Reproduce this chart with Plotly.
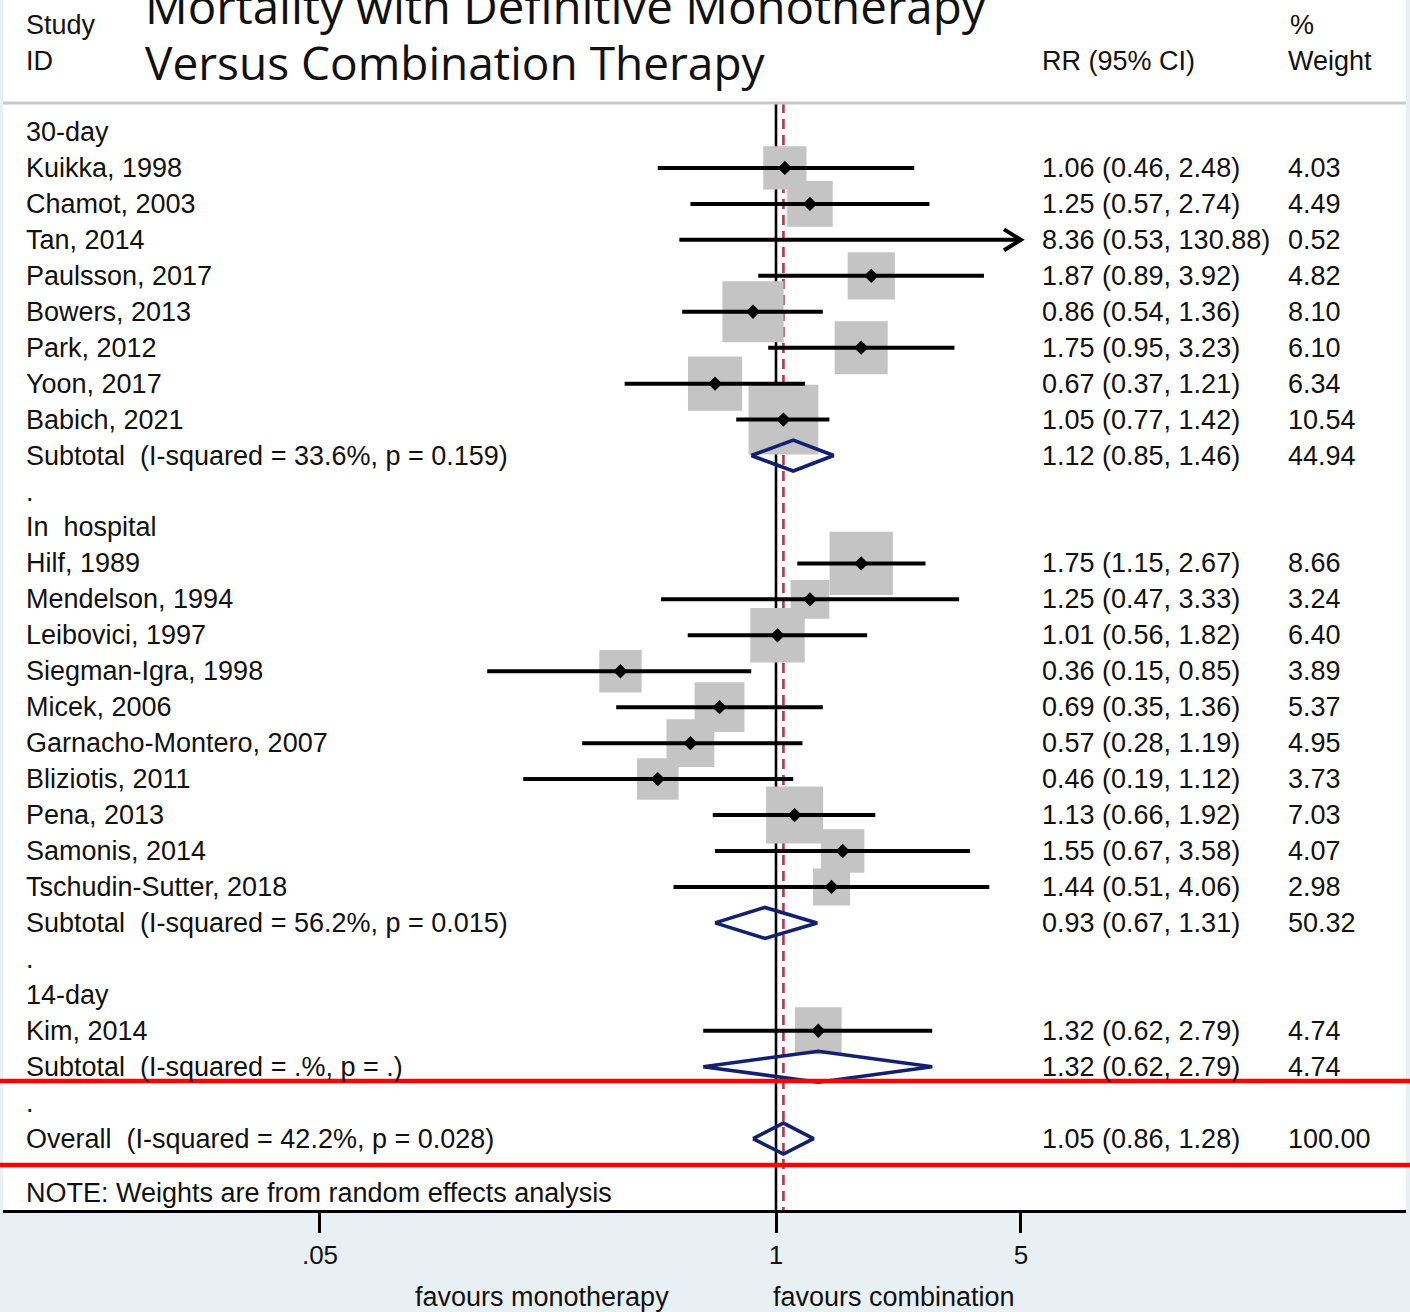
import math
import plotly.graph_objects as go

# ---------------- data ----------------
groups = ["30-day", "In\u00a0 hospital", "14-day"]
studies = ["Kuikka, 1998", "Chamot, 2003", "Tan, 2014", "Paulsson, 2017", "Bowers, 2013",
           "Park, 2012", "Yoon, 2017", "Babich, 2021",
           "Hilf, 1989", "Mendelson, 1994", "Leibovici, 1997", "Siegman-Igra, 1998", "Micek, 2006",
           "Garnacho-Montero, 2007", "Bliziotis, 2011", "Pena, 2013", "Samonis, 2014",
           "Tschudin-Sutter, 2018",
           "Kim, 2014"]
study_group = [0, 0, 0, 0, 0, 0, 0, 0,
               1, 1, 1, 1, 1, 1, 1, 1, 1, 1,
               2]
est = [1.06, 1.25, 8.36, 1.87, 0.86, 1.75, 0.67, 1.05,
       1.75, 1.25, 1.01, 0.36, 0.69, 0.57, 0.46, 1.13, 1.55, 1.44,
       1.32]
lo = [0.46, 0.57, 0.53, 0.89, 0.54, 0.95, 0.37, 0.77,
      1.15, 0.47, 0.56, 0.15, 0.35, 0.28, 0.19, 0.66, 0.67, 0.51,
      0.62]
hi = [2.48, 2.74, 130.88, 3.92, 1.36, 3.23, 1.21, 1.42,
      2.67, 3.33, 1.82, 0.85, 1.36, 1.19, 1.12, 1.92, 3.58, 4.06,
      2.79]
weight = [4.03, 4.49, 0.52, 4.82, 8.10, 6.10, 6.34, 10.54,
          8.66, 3.24, 6.40, 3.89, 5.37, 4.95, 3.73, 7.03, 4.07, 2.98,
          4.74]

sub_est = [1.12, 0.93, 1.32]
sub_lo = [0.85, 0.67, 0.62]
sub_hi = [1.46, 1.31, 2.79]
sub_w = [44.94, 50.32, 4.74]
sub_i2 = ["33.6%", "56.2%", ".%"]
sub_p = ["0.159", "0.015", "."]

overall_est, overall_lo, overall_hi, overall_w = 1.05, 0.86, 1.28, 100.00
overall_i2, overall_p = "42.2%", "0.028"

tick_vals = [0.05, 1, 5]
tick_text = [".05", "1", "5"]

title_lines = ["Mortality with Definitive Monotherapy", "Versus Combination Therapy"]
note_text = "NOTE: Weights are from random effects analysis"
left_label = "favours monotherapy"
right_label = "favours combination"

# ---------------- layout constants ----------------
W, H = 1410, 1312
ML, MR, MT, MB = 3, 4, 0, 102
ROW0_PX, ROW_PX = 132.0, 35.95
PX_PER_DEC = 350.5
ONE_PX = 776.0
XMAX = max(tick_vals)
PLOT_H = H - MT - MB

def px_to_row(py):
    return (py - ROW0_PX) / ROW_PX

def px_to_paper(px):
    return (px - ML) / (W - ML - MR)

def py_to_paper(py):
    return (H - MB - py) / PLOT_H

x_range = [(ML - ONE_PX) / PX_PER_DEC, (W - MR - ONE_PX) / PX_PER_DEC]
y_range = [px_to_row(H - MB), px_to_row(MT)]

FONT = "Liberation Sans, Arial, sans-serif"
FS = 27
NAVY = "#13206e"
BOX = "#c4c4c4"

# ---------------- build rows ----------------
rows = []
r = 0
study_rows = []
sub_rows = []
for g, gname in enumerate(groups):
    rows.append((r, gname, None, None))
    r += 1
    for i, s in enumerate(studies):
        if study_group[i] == g:
            rows.append((r, s, f"{est[i]:.2f} ({lo[i]:.2f}, {hi[i]:.2f})", f"{weight[i]:.2f}"))
            study_rows.append((i, r))
            r += 1
    rows.append((r, f"Subtotal\u00a0 (I-squared = {sub_i2[g]}, p = {sub_p[g]})",
                 f"{sub_est[g]:.2f} ({sub_lo[g]:.2f}, {sub_hi[g]:.2f})", f"{sub_w[g]:.2f}"))
    sub_rows.append((g, r))
    r += 1
    rows.append((r, ".", None, None))
    r += 1
overall_row = r
rows.append((r, f"Overall\u00a0 (I-squared = {overall_i2}, p = {overall_p})",
             f"{overall_est:.2f} ({overall_lo:.2f}, {overall_hi:.2f})", f"{overall_w:.2f}"))
note_row = r + 1.5

fig = go.Figure()

top_line_row = px_to_row(103)
bottom_row = y_range[0]

# reference lines (below markers)
fig.add_trace(go.Scatter(x=[1, 1], y=[top_line_row, bottom_row], mode="lines",
                         line=dict(color="black", width=2.6), hoverinfo="skip", showlegend=False))
fig.add_trace(go.Scatter(x=[overall_est, overall_est], y=[top_line_row, bottom_row], mode="lines",
                         line=dict(color="#b3374c", width=2.6, dash="10px,6px"),
                         hoverinfo="skip", showlegend=False))

# boxes
bx, by, bs = [], [], []
for i, rr in study_rows:
    if est[i] <= XMAX:
        bx.append(est[i]); by.append(rr); bs.append(21.5 * math.sqrt(weight[i]))
fig.add_trace(go.Scatter(x=bx, y=by, mode="markers",
                         marker=dict(symbol="square", size=bs, color=BOX, opacity=1, line=dict(width=0)),
                         hoverinfo="skip", showlegend=False))

# CI lines
cx, cy = [], []
ax_, ay_ = [], []
for i, rr in study_rows:
    right = min(hi[i], XMAX)
    cx += [lo[i], right, None]; cy += [rr, rr, None]
    if hi[i] > XMAX:
        back = 10 ** (math.log10(XMAX) - 17 / PX_PER_DEC)
        ax_ += [back, XMAX, back, None]
        ay_ += [rr - 0.29, rr, rr + 0.29, None]
fig.add_trace(go.Scatter(x=cx, y=cy, mode="lines", line=dict(color="black", width=4),
                         hoverinfo="skip", showlegend=False))
fig.add_trace(go.Scatter(x=ax_, y=ay_, mode="lines", line=dict(color="black", width=4),
                         hoverinfo="skip", showlegend=False))

# point estimates
px_, py_ = [], []
for i, rr in study_rows:
    if est[i] <= XMAX:
        px_.append(est[i]); py_.append(rr)
fig.add_trace(go.Scatter(x=px_, y=py_, mode="markers",
                         marker=dict(symbol="diamond", size=11, color="black", opacity=1, line=dict(width=0)),
                         hoverinfo="skip", showlegend=False))

# pooled diamonds
HALF = 15.5 / ROW_PX
dx, dy = [], []
for g, rr in sub_rows:
    dx += [sub_lo[g], sub_est[g], sub_hi[g], sub_est[g], sub_lo[g], None]
    dy += [rr, rr - HALF, rr, rr + HALF, rr, None]
dx += [overall_lo, overall_est, overall_hi, overall_est, overall_lo]
dy += [overall_row, overall_row - HALF, overall_row, overall_row + HALF, overall_row]
fig.add_trace(go.Scatter(x=dx, y=dy, mode="lines", line=dict(color=NAVY, width=3.6),
                         hoverinfo="skip", showlegend=False))

# ---------------- text ----------------
ann = []
def txt(x_px, row, text, size=FS, anchor="left", family=FONT):
    ann.append(dict(x=px_to_paper(x_px), xref="paper", y=row, yref="y", text=text,
                    showarrow=False, xanchor=anchor, yanchor="middle",
                    font=dict(family=family, size=size, color="#111111")))

def txt_paper(x_px, y_px, text, size=FS, anchor="left", family=FONT):
    ann.append(dict(x=px_to_paper(x_px), xref="paper", y=py_to_paper(y_px), yref="paper", text=text,
                    showarrow=False, xanchor=anchor, yanchor="middle",
                    font=dict(family=family, size=size, color="#111111")))

for rr, label, rrtxt, wtxt in rows:
    txt(24, rr, label)
    if rrtxt:
        txt(1040, rr, rrtxt)
        txt(1286, rr, wtxt)
txt(24, note_row, note_text)

txt(24, px_to_row(25), "Study")
txt(24, px_to_row(61), "ID")
txt(1040, px_to_row(61), "RR (95% CI)")
txt(1288, px_to_row(25), "%")
txt(1286, px_to_row(61), "Weight")

TFONT = "Open Sans, Noto Sans, sans-serif"
txt(143, px_to_row(5), title_lines[0], size=47.5, family=TFONT)
txt(143, px_to_row(62), title_lines[1], size=46, family=TFONT)

txt_paper(671, 1297, left_label, size=27, anchor="right")
txt_paper(771, 1297, right_label, size=27)

# ---------------- shapes ----------------
shapes = [
    dict(type="line", xref="paper", yref="y", x0=0, x1=1, y0=top_line_row, y1=top_line_row,
         line=dict(color="#c9c9c9", width=3), layer="above"),
    dict(type="line", xref="paper", yref="y", x0=-0.01, x1=1.01, y0=px_to_row(1081), y1=px_to_row(1081),
         line=dict(color="#ff0000", width=4.5), layer="above"),
    dict(type="line", xref="paper", yref="y", x0=-0.01, x1=1.01, y0=px_to_row(1165), y1=px_to_row(1165),
         line=dict(color="#ff0000", width=4.5), layer="above"),
]

fig.update_layout(
    width=W, height=H,
    margin=dict(l=ML, r=MR, t=MT, b=MB),
    paper_bgcolor="#e9f0f3", plot_bgcolor="white",
    showlegend=False,
    annotations=ann, shapes=shapes,
    xaxis=dict(type="log", range=x_range, showgrid=False, zeroline=False,
               showline=True, linecolor="black", linewidth=3,
               ticks="outside", ticklen=20, tickwidth=3, tickcolor="black",
               tickvals=tick_vals, ticktext=tick_text,
               tickfont=dict(family=FONT, size=26, color="#111111"), fixedrange=True),
    yaxis=dict(range=y_range, visible=False, fixedrange=True),
)

fig.write_html("out.html", config={"displayModeBar": False},
               post_script="document.body.style.margin='0';document.body.style.overflow='hidden';")
